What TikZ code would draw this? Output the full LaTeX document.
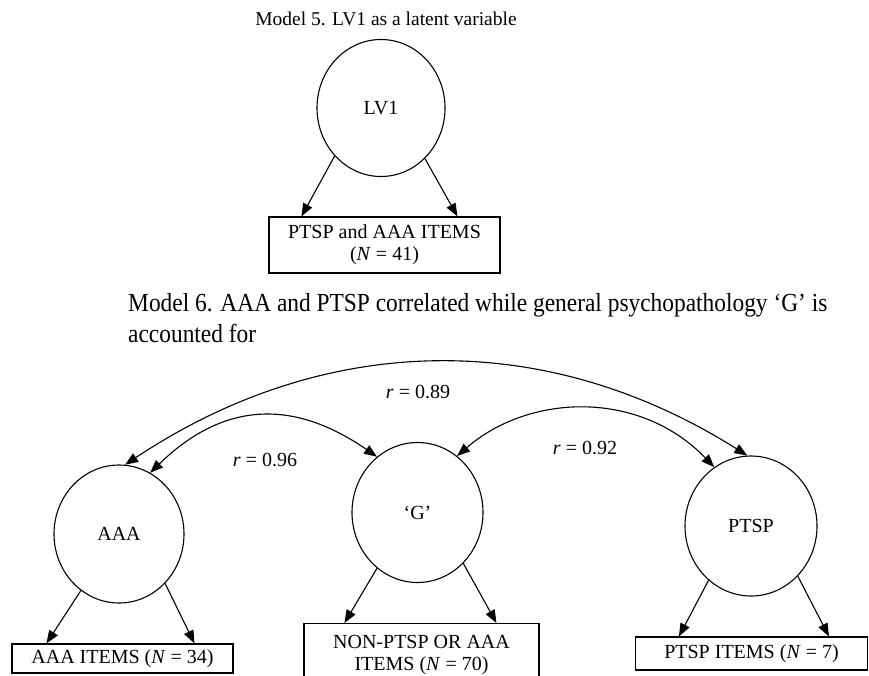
\documentclass[tikz,border=0pt]{standalone}
\usepackage{fontspec}
\setmainfont{Liberation Serif}
\newfontfamily\capfont[FakeStretch=0.9]{Liberation Serif}
\usetikzlibrary{arrows.meta,shapes.geometric}
\begin{document}
\begin{tikzpicture}[x=1pt,y=-1pt,
  lat/.style={draw, ellipse, line width=1.1pt, inner sep=0pt, font=\fontsize{20}{22}\selectfont},
  obs/.style={draw, rectangle, line width=1.1pt, inner sep=0pt, align=center, font=\fontsize{20}{22}\selectfont},
  ar/.style={line width=1.1pt, -{Triangle[length=13pt,width=10pt]}},
  cor/.style={line width=1.1pt, {Triangle[length=13pt,width=10pt]}-{Triangle[length=13pt,width=10pt]}},
  lab/.style={font=\fontsize{20}{22}\selectfont, inner sep=0pt}]
\useasboundingbox (0,0) rectangle (869,676);
\clip (0,0) rectangle (869,676);
% Model 5
\node[font=\fontsize{19.5}{22}\selectfont, inner sep=0pt, anchor=base] (cap5) at (386,26) {Model 5. LV1 as a latent variable};
\node[lat, minimum width=128pt, minimum height=137pt] (LV1) at (381,108) {LV1};
\node[obs, minimum width=231pt, minimum height=56pt] (box5) at (384.5,245) {PTSP and AAA ITEMS\\(\textit{N} = 41)};
\draw[ar] (LV1.226) -- ([xshift=33pt]box5.north west);
\draw[ar] (LV1.311) -- ([xshift=189pt]box5.north west);
% Model 6
\node[font=\capfont\fontsize{26}{31}\selectfont, inner sep=0pt, anchor=base west, align=left] (cap6) at (128,342) {Model 6. AAA and PTSP correlated while general psychopathology ‘G’ is\\accounted for};
\node[lat, minimum width=130pt, minimum height=138pt] (AAA) at (119,534) {AAA};
\node[lat, minimum width=131pt, minimum height=140pt] (G) at (417.5,512.5) {‘G’};
\node[lat, minimum width=132pt, minimum height=140pt] (PTSP) at (751,526) {PTSP};
\node[obs, minimum width=221pt, minimum height=29pt] (aaabox) at (122.5,658.5) {AAA ITEMS (\textit{N} = 34)};
\node[obs, anchor=north, minimum width=235pt, inner ysep=12pt] (gbox) at (421.5,623) {NON-PTSP OR AAA\\ITEMS (\textit{N} = 70)};
\node[obs, minimum width=232pt, minimum height=33pt] (ptspbox) at (751.5,653.5) {PTSP ITEMS (\textit{N} = 7)};
\draw[ar] (AAA.236) -- ([xshift=35pt]aaabox.north west);
\draw[ar] (AAA.313) -- ([xshift=183pt]aaabox.north west);
\draw[ar] (G.234) -- ([xshift=41pt]gbox.north west);
\draw[ar] (G.312) -- ([xshift=193pt]gbox.north west);
\draw[ar] (PTSP.232) -- ([xshift=44pt]ptspbox.north west);
\draw[ar] (PTSP.313) -- ([xshift=194pt]ptspbox.north west);
\draw[cor] (AAA.85) .. controls (320,335) and (540,325) .. (PTSP.93);
\draw[cor] (AAA.63) .. controls (225,400) and (295,400) .. (G.126);
\draw[cor] (G.55) .. controls (530,393) and (640,390) .. (PTSP.122);
\node[lab, anchor=base] (r89) at (418,398) {\textit{r} = 0.89};
\node[lab, anchor=base] (r96) at (265,466) {\textit{r} = 0.96};
\node[lab, anchor=base] (r92) at (585,454) {\textit{r} = 0.92};
\end{tikzpicture}
\end{document}
